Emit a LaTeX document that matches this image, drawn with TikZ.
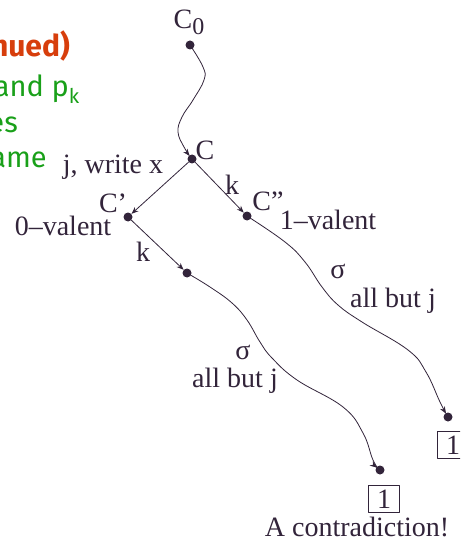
\documentclass[tikz,border=0pt]{standalone}
\usepackage{fontspec}
\setmainfont{Liberation Serif}
\newfontfamily\slidefont{Fira Sans}
\usetikzlibrary{arrows.meta}
\definecolor{ink}{RGB}{50,36,58}
\definecolor{slidegreen}{RGB}{25,160,25}
\definecolor{slidered}{RGB}{215,62,12}
\begin{document}
\begin{tikzpicture}[x=1pt, y=-1pt, font=\fontsize{28}{30}\selectfont, line join=round, line cap=round,
  >={Stealth[length=7pt,width=5.5pt]},
  dot/.style={circle, fill=ink, inner sep=0pt, minimum size=9pt},
  lbl/.style={text=ink, inner sep=0.5pt},
  wire/.style={draw=ink, line width=0.8pt},
  result/.style={draw=ink, line width=0.8pt, text=ink, minimum width=31pt, minimum height=27pt, inner sep=0pt},
  slide/.style={anchor=base east, inner sep=0pt, font=\slidefont\fontsize{29}{30}\selectfont}]
\useasboundingbox (0,0) rectangle (460,545);
\clip (0,0) rectangle (460,545);
% left-over slide text
\node[slide, text=slidered, font=\slidefont\bfseries\fontsize{30}{30}\selectfont] (s1) at (70,57) {nued)};
\node[slide, text=slidegreen] (s2) at (80,97) {and p\textsubscript{k}};
\node[slide, text=slidegreen] (s3) at (18,133) {es};
\node[slide, text=slidegreen] (s4) at (47,168) {ame};
% configurations
\node[dot] (C0) at (190,45) {};
\node[dot] (C) at (192,159) {};
\node[dot] (C1) at (128,217) {};
\node[dot] (C2) at (247,216) {};
\node[dot] (D) at (187,273) {};
\node[dot] (E1) at (380,470) {};
\node[dot] (E2) at (448,417) {};
\node[result] (R1) at (384,499) {1};
\node[result] (R2) at (453,445) {1};
% labels
\node[lbl] (lC0) at (189,22) {C\raisebox{-6pt}{\fontsize{24}{24}\selectfont 0}};
\node[lbl] (lC) at (205,150) {C};
\node[lbl] (lC1) at (113,203) {C'};
\node[lbl] (lC2) at (268,201) {C''};
\node[lbl] (lwx) at (113,167) {j, write x};
\node[lbl] (l0v) at (63,226) {0--valent};
\node[lbl] (l1v) at (328,220) {1--valent};
\node[lbl] (lk1) at (232,185) {k};
\node[lbl] (lk2) at (143,252) {k};
\node[lbl] (ls1) at (243,352) {σ};
\node[lbl] (la1) at (235,381) {all but j};
\node[lbl] (ls2) at (338,271) {σ};
\node[lbl] (la2) at (393,301) {all but j};
\node[lbl] (lcon) at (357,527) {A contradiction!};
% steps
\draw[wire, ->, shorten >=4pt] plot[smooth, tension=0.7] coordinates {(C0) (203,67) (204,80) (193,100) (182,117) (178,132) (184,147) (C)};
\draw[wire, ->] (C) -- (C1);
\draw[wire, ->] (C) -- (C2);
\draw[wire, ->] (C1) -- (D);
\draw[wire, ->, shorten >=4pt] plot[smooth, tension=0.7] coordinates {(C2) (285,242) (305,262) (322,287) (338,305) (362,322) (408,350) (426,372) (440,402) (E2)};
\draw[wire, ->, shorten >=4pt] plot[smooth, tension=0.7] coordinates {(D) (210,287) (232,303) (247,320) (260,342) (272,358) (297,380) (343,407) (363,433) (373,460) (E1)};
\end{tikzpicture}
\end{document}
